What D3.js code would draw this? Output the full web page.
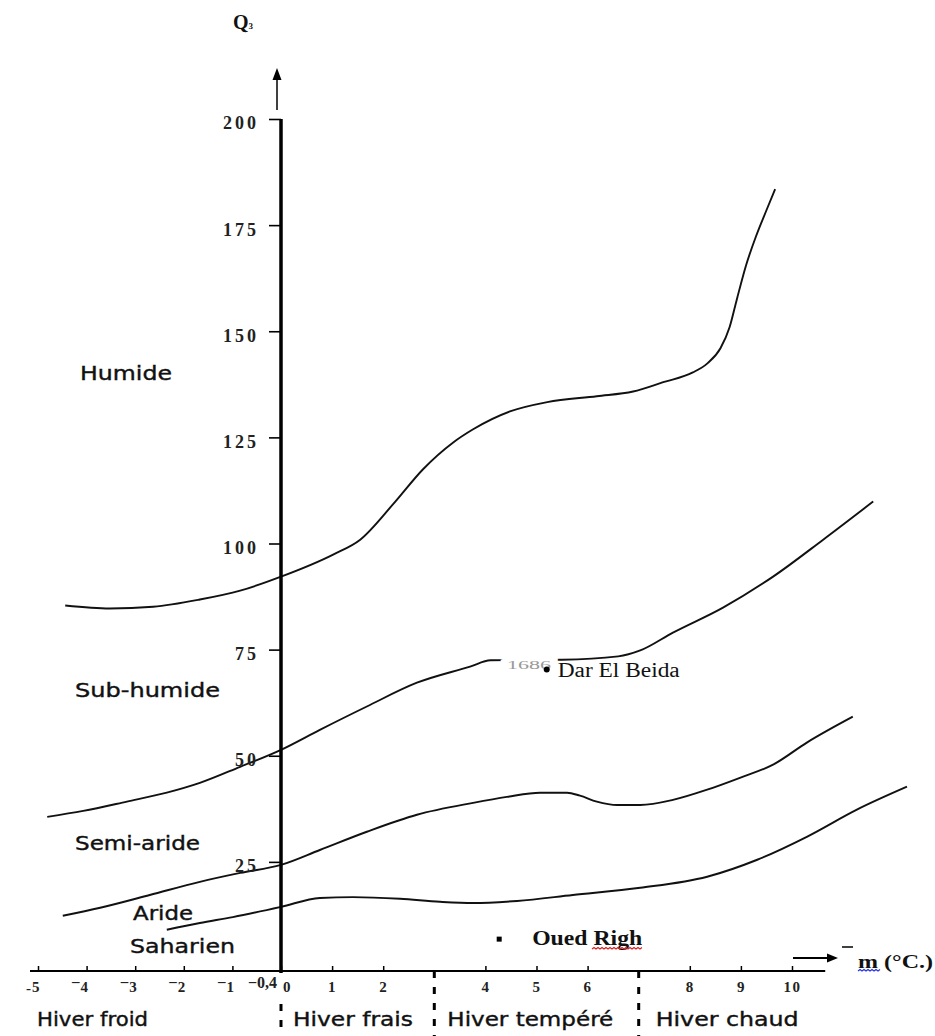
<!DOCTYPE html>
<html><head><meta charset="utf-8">
<script src="https://cdn.jsdelivr.net/npm/d3@7"></script>
<style>body{margin:0;background:#fff}svg{display:block}</style>
</head><body>
<svg id="chart" width="935" height="1036"></svg>
<script>
// ---------- data ----------
// Boundary Humide / Sub-humide
const humideM = [-4.44,-3.52,-2.63,-1.67,-0.84,0,1.02,1.55,2.19,2.78,3.37,3.76,4.48,5.21,6.18,6.89,7.48,8.06,8.35,8.6,8.78,8.92,9.1,9.3,9.51,9.67];
const humideQ = [85.4,84.7,85.1,86.8,88.9,92.2,97.4,100.9,109.2,117.5,123.8,126.9,131.1,133.3,134.7,135.8,138.0,140.3,142.5,146.0,151.0,157.5,165.5,172.5,178.8,183.5];
// Boundary Sub-humide / Semi-aride
const subHumideM = [-4.81,-4.07,-3.17,-2.35,-1.67,-0.84,0,0.76,1.68,2.66,3.70,4.10,5.50,6.60,7.03,7.67,8.65,9.63,10.61,11.59];
const subHumideQ = [35.6,37.0,39.2,41.3,43.6,47.4,51.4,56.1,61.6,67.2,71.0,72.5,72.6,73.4,74.8,79.0,84.9,92.2,100.9,109.9];
// Boundary Semi-aride / Aride
const semiArideM = [-4.49,-3.72,-2.70,-1.67,-0.84,0,0.76,1.68,2.66,3.76,4.42,5.07,5.60,5.85,6.18,6.58,7.03,7.67,8.34,8.98,9.63,10.29,11.19];
const semiArideQ = [12.3,14.2,17.2,20.3,22.4,24.3,27.8,32.1,36.1,38.9,40.3,41.3,41.3,40.6,39.2,38.4,38.4,39.6,42.0,44.8,47.9,53.1,59.2];
// Boundary Aride / Saharien
const arideM = [-2.35,-1.67,-0.99,0,0.76,1.41,2.33,3.11,3.76,4.62,5.71,7.03,8.34,9.32,10.29,11.27,12.25];
const arideQ = [9.0,10.6,12.0,14.4,16.5,16.7,16.3,15.6,15.3,15.8,17.2,18.9,21.5,25.5,30.9,37.3,42.7];

const stationNames = ["Dar El Beida", "Oued Righ"];
const stationM = [5.2, 4.27];
const stationQ = [70.3, 6.8];

const yTickValues = [25, 50, 75, 100, 125, 150, 175, 200];
const yTickLabels = ["25", "50", "75", "100", "125", "150", "175", "200"];
const xTickValues = [-5,-4,-3,-2,-1,0,1,2,4,5,6,8,9,10];
const xTickLabels = ["5","4","3","2","1","0","1","2","4","5","6","8","9","10"];
const xTickPrefix = ["- ","\u00AF","\u00AF","\u00AF","\u00AF","","","","","","","","",""];

const zoneNames = ["Humide", "Sub-humide", "Semi-aride", "Aride", "Saharien"];
const winterNames = ["Hiver froid", "Hiver frais", "Hiver tempéré", "Hiver chaud"];
const winterBounds = [0, 3, 7];

// ---------- drawing ----------
const svg = d3.select("#chart");
const x = d3.scaleLinear().domain([-5, 0, 10]).range([38, 281, 792]);
const y = d3.scaleLinear().domain([0, 200]).range([968, 119]);
const AXIS_Y = 971;
const SERIF = "Liberation Serif, Times New Roman, serif";
const SANS = "DejaVu Sans, Verdana, sans-serif";

const line = d3.line().x(d => x(d[0])).y(d => y(d[1])).curve(d3.curveMonotoneX);
const curves = [[humideM, humideQ], [subHumideM, subHumideQ], [semiArideM, semiArideQ], [arideM, arideQ]];
svg.append("g").selectAll("path").data(curves).join("path")
  .attr("d", c => line(c[0].map((m, i) => [m, c[1][i]])))
  .attr("fill", "none").attr("stroke", "#111").attr("stroke-width", 1.9);

// Q axis (thick vertical)
svg.append("line").attr("x1", x(0)).attr("x2", x(0)).attr("y1", y(200)).attr("y2", AXIS_Y + 2)
  .attr("stroke", "#000").attr("stroke-width", 3.5);
const ax = x(0) - 4;
svg.append("line").attr("x1", ax).attr("x2", ax).attr("y1", 110).attr("y2", 78).attr("stroke", "#000").attr("stroke-width", 1.5);
svg.append("path").attr("d", `M${ax},68 L${ax - 4.5},80 L${ax + 4.5},80 Z`).attr("fill", "#000");
const qt = svg.append("text").attr("x", 233).attr("y", 29)
  .attr("font-family", SERIF).attr("font-weight", "bold").attr("font-size", 20).attr("fill", "#111");
qt.append("tspan").text("Q");
qt.append("tspan").attr("font-size", 9).text("3");

// y axis ticks / labels
const yAxis = d3.axisLeft(y).tickValues(yTickValues).tickSize(12).tickPadding(10)
  .tickFormat((d, i) => yTickLabels[i]);
const gy = svg.append("g").attr("transform", `translate(${x(0)},0)`).call(yAxis);
gy.select(".domain").remove();
gy.selectAll(".tick line").attr("stroke", "#000").attr("stroke-width", 1.6);
gy.selectAll(".tick text").attr("dy", "0.55em")
  .attr("font-family", SERIF).attr("font-weight", "bold")
  .attr("font-size", 18).attr("letter-spacing", 3).attr("fill", "#222");

// x axis
svg.append("line").attr("x1", 30).attr("x2", x(10.65)).attr("y1", AXIS_Y).attr("y2", AXIS_Y)
  .attr("stroke", "#000").attr("stroke-width", 2);
const xAxis = d3.axisBottom(x).tickValues(xTickValues).tickSize(-5).tickSizeOuter(0).tickPadding(10)
  .tickFormat((d, i) => xTickLabels[i]);
const gx = svg.append("g").attr("transform", `translate(0,${AXIS_Y})`).call(xAxis);
gx.select(".domain").remove();
gx.selectAll(".tick line").attr("stroke", "#000").attr("stroke-width", 1.5);
gx.selectAll(".tick text")
  .attr("font-family", SERIF).attr("font-weight", "bold")
  .attr("font-size", 15).attr("letter-spacing", 1.5).attr("fill", "#222")
  .attr("dx", d => d < 0 ? -2 : (d === 0 ? 6 : 0));
svg.append("g").selectAll("text").data(xTickValues.map((v, i) => [v, xTickPrefix[i]]).filter(d => d[1]))
  .join("text")
  .attr("x", d => x(d[0]) - 7).attr("y", 993)
  .attr("text-anchor", "end")
  .attr("font-family", SERIF).attr("font-weight", "bold")
  .attr("font-size", 15).attr("fill", "#222")
  .text(d => d[1]);
svg.append("text").attr("x", x(0) - 4).attr("y", 988).attr("text-anchor", "end")
  .attr("font-family", SERIF).attr("font-weight", "bold")
  .attr("font-size", 16).attr("fill", "#222").text("\u22120,4");

// m arrow + label
svg.append("line").attr("x1", 793).attr("x2", 830).attr("y1", 958).attr("y2", 958).attr("stroke", "#000").attr("stroke-width", 2);
svg.append("path").attr("d", "M838,958 L827,953.5 L827,962.5 Z").attr("fill", "#000");
svg.append("line").attr("x1", 842).attr("x2", 853).attr("y1", 947).attr("y2", 947).attr("stroke", "#000").attr("stroke-width", 1.5);
svg.append("text").attr("x", 858).attr("y", 968)
  .attr("textLength", 75).attr("lengthAdjust", "spacingAndGlyphs")
  .attr("font-family", SERIF).attr("font-weight", "bold")
  .attr("font-size", 18).attr("fill", "#111").text("m (°C.)");

function wavy(x0, x1, yy) {
  let p = `M${x0},${yy}`; let up = true;
  for (let xx = x0 + 2; xx <= x1; xx += 2) { p += ` L${xx},${yy + (up ? -1.5 : 0)}`; up = !up; }
  return p;
}
svg.append("path").attr("d", wavy(858, 880, 971)).attr("fill", "none").attr("stroke", "#2233dd").attr("stroke-width", 1.2);

// winter separators (dashed)
svg.append("g").selectAll("line").data(winterBounds).join("line")
  .attr("x1", d => x(d)).attr("x2", d => x(d))
  .attr("y1", d => d === 0 ? 1004 : AXIS_Y).attr("y2", 1036)
  .attr("stroke", "#000").attr("stroke-width", 3).attr("stroke-dasharray", "7,9");

// winter labels
const winterX = [x(-5) - 1, x(0) + 12, x(3) + 13, x(7) + 17];
const winterW = [111, 120, 166, 143];
svg.append("g").selectAll("text").data(winterNames).join("text")
  .attr("x", (d, i) => winterX[i]).attr("y", 1026)
  .attr("textLength", (d, i) => winterW[i]).attr("lengthAdjust", "spacingAndGlyphs")
  .attr("font-family", SANS).attr("font-size", 20).attr("fill", "#111")
  .attr("stroke", "#111").attr("stroke-width", 0.4)
  .text(d => d);

// zone labels
const zoneX = [80, 75, 75, 133, 130];
const zoneY = [380, 697, 850, 920, 953];
const zoneW = [92, 145, 125, 60, 105];
svg.append("g").selectAll("text").data(zoneNames).join("text")
  .attr("x", (d, i) => zoneX[i]).attr("y", (d, i) => zoneY[i])
  .attr("textLength", (d, i) => zoneW[i]).attr("lengthAdjust", "spacingAndGlyphs")
  .attr("font-family", SANS).attr("font-size", 20).attr("fill", "#111")
  .attr("stroke", "#111").attr("stroke-width", 0.4)
  .text(d => d);

// stations
svg.append("text").attr("x", 507).attr("y", 669)
  .attr("textLength", 44).attr("lengthAdjust", "spacingAndGlyphs")
  .attr("font-family", SERIF).attr("font-size", 12).attr("fill", "#999")
  .attr("stroke", "#fff").attr("stroke-width", 9).attr("paint-order", "stroke")
  .text("1686");
svg.append("circle").attr("cx", x(stationM[0])).attr("cy", y(stationQ[0])).attr("r", 3).attr("fill", "#000");
svg.append("text").attr("x", x(stationM[0]) + 11).attr("y", 677)
  .attr("textLength", 122).attr("lengthAdjust", "spacingAndGlyphs")
  .attr("font-family", SERIF).attr("font-size", 20).attr("fill", "#111")
  .text(stationNames[0]);
svg.append("rect").attr("x", x(stationM[1]) - 2.5).attr("y", y(stationQ[1]) - 2.5).attr("width", 5).attr("height", 5).attr("fill", "#000");
svg.append("text").attr("x", x(stationM[1]) + 33).attr("y", 945)
  .attr("textLength", 110).attr("lengthAdjust", "spacingAndGlyphs")
  .attr("font-family", SERIF).attr("font-weight", "bold").attr("font-size", 20).attr("fill", "#111")
  .text(stationNames[1]);
svg.append("path").attr("d", wavy(592, 643, 949)).attr("fill", "none").attr("stroke", "#e02020").attr("stroke-width", 1.2);
</script>
</body></html>
